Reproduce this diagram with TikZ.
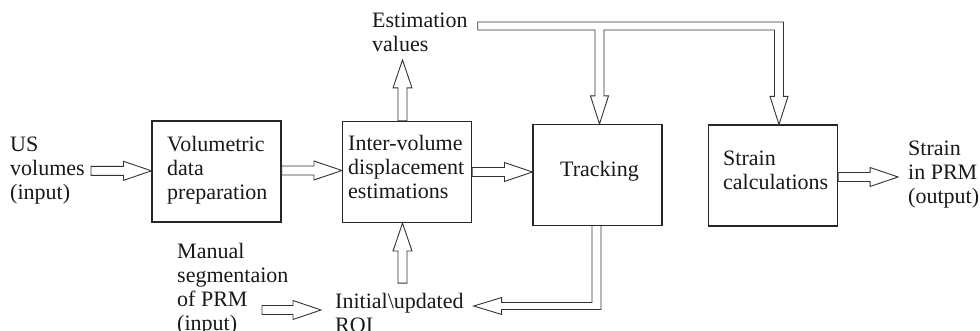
\documentclass[tikz,border=0pt]{standalone}
\usepackage{fontspec}
\setmainfont{Liberation Serif}
\usetikzlibrary{calc}
\def\aw{4.5pt}
\def\ahw{9.5pt}
\def\ahl{28pt}
\begin{document}
\begin{tikzpicture}[x=1pt,y=-1pt,
  font=\fontsize{22}{24}\selectfont,
  box/.style={draw=black!85, line width=1.1pt, inner sep=0pt, minimum width=129pt, minimum height=101pt},
  txt/.style={anchor=north west, inner sep=0pt, align=left, text=black!90},
  conn/.style={draw=black!80, line width=0.9pt, line join=miter},
  blockarrow/.style={conn, to path={
    ($(\tikztostart)!\aw!90:(\tikztotarget)$)
    -- ($($(\tikztotarget)!\ahl!(\tikztostart)$)!\aw!90:(\tikztotarget)$)
    -- ($($(\tikztotarget)!\ahl!(\tikztostart)$)!\ahw!90:(\tikztotarget)$)
    -- (\tikztotarget)
    -- ($($(\tikztotarget)!\ahl!(\tikztostart)$)!\ahw!-90:(\tikztotarget)$)
    -- ($($(\tikztotarget)!\ahl!(\tikztostart)$)!\aw!-90:(\tikztotarget)$)
    -- ($(\tikztostart)!\aw!-90:(\tikztotarget)$)
    -- cycle}}]

\useasboundingbox[fill=white] (0,0) rectangle (980,331);

% boxes
\node[box] (vol) at (216.5,171.5) {};
\node[box] (int) at (407,172) {};
\node[box] (track) at (597.5,175) {};
\node[box] (str) at (773,175.5) {};

% texts
\node[txt] (us) at (10,137) {US\\volumes\\(input)};
\node[txt] (voltxt) at (167,136) {Volumetric\\data\\preparation};
\node[txt] (inttxt) at (348,135) {Inter-volume\\displacement\\estimations};
\node[anchor=base, inner sep=0pt, text=black!90] (tracktxt) at (599.5,177) {Tracking};
\node[txt] (strtxt) at (723,151) {Strain\\calculations};
\node[txt] (esttxt) at (372,13) {Estimation\\values};
\node[txt] (outtxt) at (908,141) {Strain\\in PRM\\(output)};
\node[txt] (mantxt) at (177,243) {Manual\\segmentaion\\of PRM\\(input)};
\node[txt] (roitxt) at (335,293) {Initial\textbackslash updated\\ROI};

% straight block arrows
\draw[blockarrow] ($(us.east)+(6,0)$) to (us.east -| vol.west);
\draw[blockarrow] ($(vol.east)+(0,-1)$) to ($(vol.east -| int.west)+(0,-1)$);
\draw[blockarrow] (int.east) to (int.east -| track.west);
\draw[blockarrow] ($(str.east)+(0,1.5)$) to ($(str.east)+(60,1.5)$);
\draw[blockarrow] ($(int.north)+(-4.5,0)$) to ($(int.north)+(-4.5,-61)$);
\coordinate (roibase) at ($(int.south)+(-4.5,60)$);
\draw[blockarrow] (roibase) to (roibase |- int.south);
\coordinate (mtail) at ($(mantxt.north west)+(85,67)$);
\coordinate (mtip) at ($(mtail -| roitxt.west)+(-14,0)$);
\draw[blockarrow] (mtail) to (mtip);

% T-shaped connector from estimation values to tracking and strain
\coordinate (T) at ($(track.north)+(2,0)$);
\coordinate (S) at ($(str.north)+(6,0)$);
\coordinate (Ltop) at ($(esttxt.north east)+(10,9)$);
\coordinate (Lb) at ($(Ltop)+(0,8)$);
\coordinate (Sr) at ($(S)+(4.5,0)$);
\coordinate (Sl) at ($(S)+(-4.5,0)$);
\coordinate (Tr) at ($(T)+(4.5,0)$);
\coordinate (Tl) at ($(T)+(-4.5,0)$);
\coordinate (Sh) at ($(S)+(0,-28)$);
\coordinate (Th) at ($(T)+(0,-28)$);
\draw[conn] (Lb) -- (Ltop) -- (Ltop -| Sr) -- (Sh -| Sr) -- ($(Sh)+(9,0)$) -- (S)
  -- ($(Sh)+(-9,0)$) -- (Sh -| Sl) -- (Lb -| Sl) -- (Lb -| Tr) -- (Th -| Tr)
  -- ($(Th)+(9,0)$) -- (T) -- ($(Th)+(-9,0)$) -- (Th -| Tl) -- (Lb -| Tl) -- cycle;

% L-shaped connector from tracking back to ROI
\coordinate (Q) at ($(track.south)+(-1,0)$);
\coordinate (Ql) at ($(Q)+(-4.5,0)$);
\coordinate (Qr) at ($(Q)+(4.5,0)$);
\coordinate (R) at ($(roitxt.north east)+(10,13)$);
\coordinate (Rh) at ($(R)+(28,0)$);
\coordinate (Ru) at ($(R)+(0,-3.5)$);
\coordinate (Rd) at ($(R)+(0,3.5)$);
\draw[conn] (Ql) -- (Ql |- Ru) -- (Rh |- Ru) -- ($(Rh)+(0,-8.5)$) -- (R)
  -- ($(Rh)+(0,8.5)$) -- (Rh |- Rd) -- (Qr |- Rd) -- (Qr);
\end{tikzpicture}
\end{document}
